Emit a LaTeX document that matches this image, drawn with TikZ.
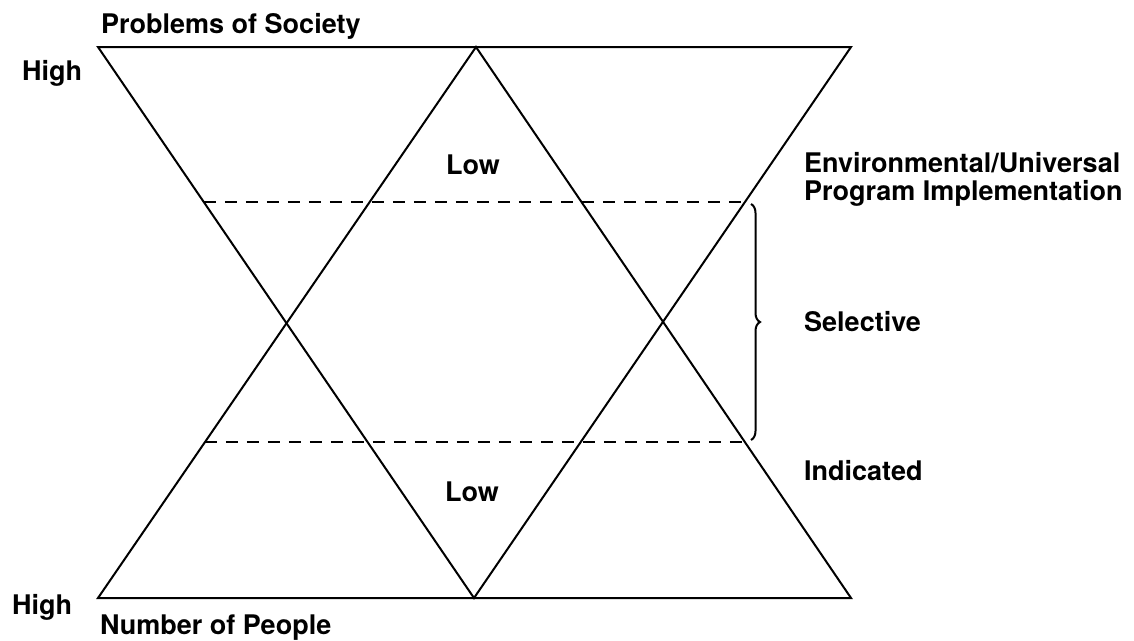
\documentclass[tikz,border=0pt]{standalone}
\usepackage{fontspec}
\setmainfont{TeX Gyre Heros}
\usetikzlibrary{calc,decorations.pathreplacing}
\begin{document}
\begin{tikzpicture}[x=1pt,y=-1pt,
  edge/.style={line width=2pt,line join=miter},
  dashline/.style={line width=2pt,dash pattern=on 12pt off 9pt},
  lbl/.style={anchor=base west,inner sep=0pt,font=\fontsize{27}{29}\selectfont\bfseries},
  bracestyle/.style={line width=2pt,decorate,decoration={brace,amplitude=9pt}}]
\useasboundingbox (0,0) rectangle (1134,640);
% vertices
\coordinate (TL) at (98,47);
\coordinate (TR) at (851,47);
\coordinate (Top) at (476,47);
\coordinate (BL) at (98,598);
\coordinate (BR) at (851,598);
\coordinate (Bot) at (474,598);
% inverted triangle
\draw[edge] (TL) -- (TR) -- (Bot) -- cycle;
% upright triangle
\draw[edge] (BL) -- (Top) -- (BR) -- cycle;
% dashed levels
\coordinate (u1) at ($(TL)!0.2813!(Bot)$);
\coordinate (u2) at ($(TR)!0.2813!(Bot)$);
\coordinate (l1) at ($(Top)!0.717!(BL)$);
\coordinate (l2) at ($(Top)!0.717!(BR)$);
\draw[dashline] (u1) -- (u2);
\draw[dashline] (l1) -- (l2);
% brace
\coordinate (b1) at (751,204);
\coordinate (b2) at (751,440);
\draw[bracestyle] (b1) -- (b2);
% labels
\node[lbl] (pos) at (101,33) {Problems of Society};
\node[lbl] (hi1) at (22,80) {High};
\node[lbl] (low1) at (446,174) {Low};
\node[lbl] (env) at (804,172) {Environmental/Universal};
\node[lbl] (pim) at (804,200) {Program Implementation};
\node[lbl] (sel) at (804,331) {Selective};
\node[lbl] (ind) at (804,480) {Indicated};
\node[lbl] (low2) at (445,501) {Low};
\node[lbl] (hi2) at (12,614) {High};
\node[lbl] (nop) at (100,634) {Number of People};
\end{tikzpicture}
\end{document}
